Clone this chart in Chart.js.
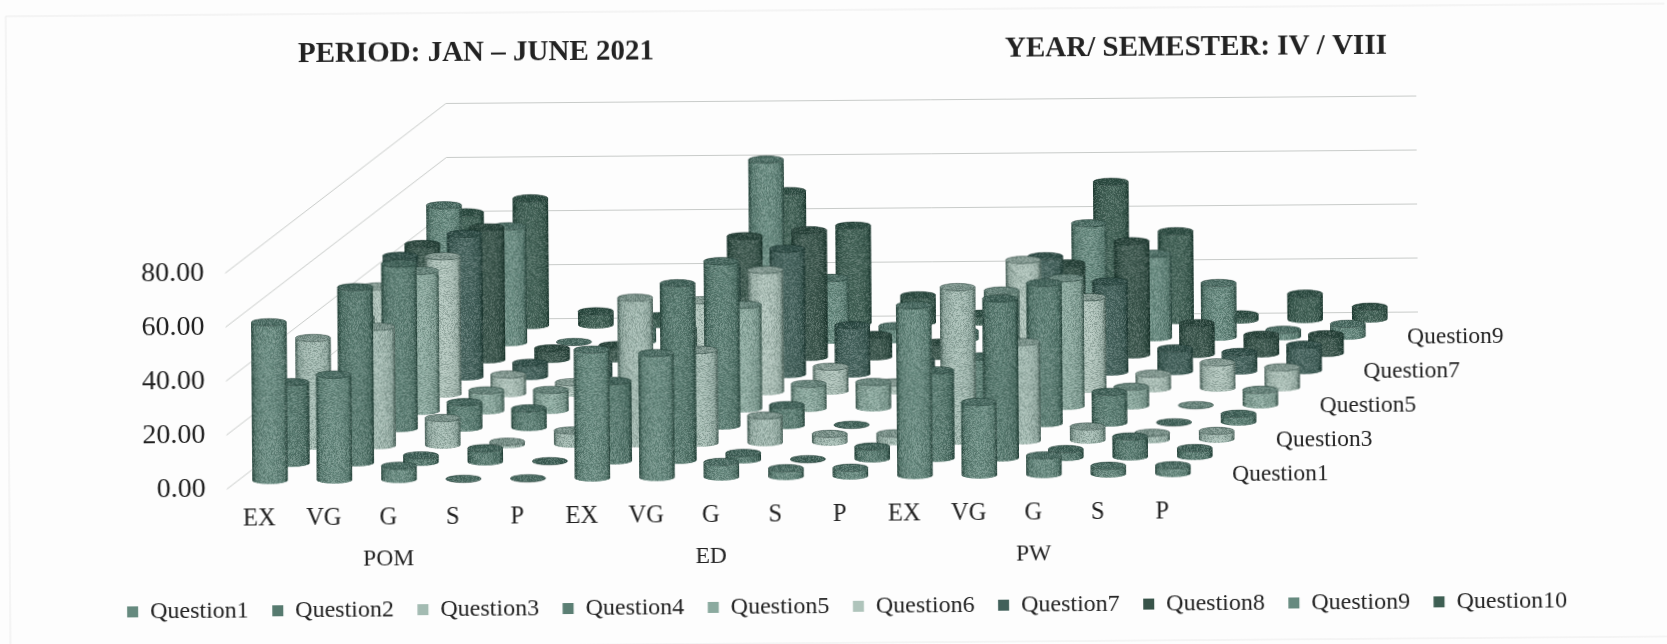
<!DOCTYPE html>
<html>
<head>
<meta charset="utf-8">
<title>Feedback chart</title>
<script src="https://cdn.jsdelivr.net/npm/chart.js@4"></script>
<style>
  html, body { margin: 0; padding: 0; background: #fdfdfd; overflow: hidden; }
  #wrap { width: 1667px; height: 644px; transform: rotate(-0.44deg); }
</style>
</head>
<body>
<div id="wrap"><canvas id="chartCanvas" width="1667" height="644"></canvas></div>
<script>
// --- Data ---
const grades = ["EX","VG","G","S","P","EX","VG","G","S","P","EX","VG","G","S","P"];
const subjects = ["POM","ED","PW"];
const rowLabels = ["Question1","Question3","Question5","Question7","Question9"];
const yTicks = [0, 20, 40, 60, 80];

const question1  = [58.5, 39, 5, 0, 0, 47.5, 46, 5.5, 3, 3, 63, 27, 7, 3, 3];
const question2  = [30, 65, 2.5, 5, 0, 29.5, 65.5, 2.5, 0, 4.5, 32.5, 59, 3, 7.5, 3];
const question3  = [40, 44, 10, 1, 5, 54, 34.5, 10, 3, 3, 57, 36.5, 5, 2.5, 3];
const question4  = [18, 61, 9.5, 7, 4, 22, 61, 7.5, 0, 3, 25, 52, 11.5, 0, 3];
const question5  = [35, 52, 7.5, 7.5, 4, 30, 38.5, 9, 9.5, 5, 43, 47.5, 7, 0, 5.5];
const question6  = [40, 51, 7, 4, 3, 34, 45, 9, 3, 4, 48, 34, 5.5, 9.5, 7.5];
const question7  = [45, 53, 5, 5, 3, 40, 46.5, 18, 5, 5, 43, 33.5, 8.5, 7, 9.5];
const question8  = [43, 49, 4, 5, 2, 45, 47, 8, 5, 5, 34, 42, 11.5, 7, 7];
const question9  = [51, 43, 0, 5, 2, 67, 23, 5, 3, 4, 42.5, 31, 20, 2.5, 4.5];
const question10 = [42, 47, 5, 3, 3, 49, 36, 10, 3, 3, 51.5, 33, 2, 9.5, 4.5];

const seriesValues = [question1, question2, question3, question4, question5,
                      question6, question7, question8, question9, question10];
const seriesColors = ["#668a7f","#567a6f","#a3bbb2","#5b7f74","#8baa9f",
                      "#afc4bb","#41605a","#375349","#668a7f","#3e5f53"];

// --- Look of the fake 3D box ---
const FONT = '"Liberation Serif", serif';
const DEPTH_X = 22;
const DEPTH_Y = 17;
const ROWS = 10;
const RX = 17.7;
const RY = 3.8;

// print grain of the scan, only a texture on the cylinders
function makeGrain(ctx) {
  const tile = document.createElement("canvas");
  tile.width = tile.height = 96;
  const t = tile.getContext("2d");
  for (let py = 0; py < 96; py++) {
    for (let px = 0; px < 96; px++) {
      const n = Math.abs(Math.sin(px * 12.9898 + py * 78.233) * 43758.5453) % 1;
      t.fillStyle = n < 0.5 ? "rgba(0,20,15," + (0.22 * (0.5 - n) * 2) + ")"
                            : "rgba(255,255,255," + (0.2 * (n - 0.5) * 2) + ")";
      t.fillRect(px, py, 1, 1);
    }
  }
  return ctx.createPattern(tile, "repeat");
}
let grain = null;

function drawCylinder(ctx, cx, topY, baseY, color) {
  if (!grain) grain = makeGrain(ctx);
  const g = ctx.createLinearGradient(cx - RX, 0, cx + RX, 0);
  g.addColorStop(0, "rgba(0,25,18,0.6)");
  g.addColorStop(0.1, "rgba(0,25,18,0.14)");
  g.addColorStop(0.5, "rgba(255,255,255,0.04)");
  g.addColorStop(0.9, "rgba(0,25,18,0.14)");
  g.addColorStop(1, "rgba(0,25,18,0.6)");

  ctx.beginPath();
  ctx.ellipse(cx, baseY, RX, RY, 0, 0, Math.PI);
  ctx.lineTo(cx - RX, topY);
  ctx.ellipse(cx, topY, RX, RY, 0, Math.PI, 0, true);
  ctx.closePath();
  ctx.fillStyle = color;
  ctx.fill();
  ctx.fillStyle = g;
  ctx.fill();
  ctx.fillStyle = grain;
  ctx.fill();

  // top face
  ctx.beginPath();
  ctx.ellipse(cx, topY, RX, RY, 0, 0, Math.PI * 2);
  ctx.fillStyle = color;
  ctx.fill();
  ctx.fillStyle = "rgba(0,25,18,0.25)";
  ctx.fill();
  ctx.fillStyle = grain;
  ctx.fill();
  ctx.strokeStyle = "rgba(0,25,18,0.4)";
  ctx.lineWidth = 0.8;
  ctx.stroke();
}

// --- Bar controller that draws each row as cylinders, pushed back by its depth ---
class CylinderController extends Chart.BarController {
  draw() {
    const ctx = this.chart.ctx;
    const depth = this.index + 0.5;
    const color = this.getDataset().backgroundColor;
    this.getMeta().data.forEach(bar => {
      drawCylinder(ctx, bar.x + depth * DEPTH_X, bar.y - depth * DEPTH_Y, bar.base - depth * DEPTH_Y, color);
    });
  }
}
CylinderController.id = "cylinder";
CylinderController.defaults = Chart.BarController.defaults;
Chart.register(CylinderController);

// --- Walls behind the bars ---
const wallsPlugin = {
  id: "walls",
  beforeDatasetsDraw(chart) {
    const { ctx, scales: { x, y } } = chart;
    const dx = DEPTH_X * ROWS + 2;
    const dy = DEPTH_Y * ROWS - 2;
    ctx.save();
    ctx.strokeStyle = "#c8cbc9";
    ctx.lineWidth = 1;
    yTicks.forEach(t => {
      const py = y.getPixelForValue(t);
      ctx.beginPath();
      ctx.moveTo(x.left, py);
      ctx.lineTo(x.left + dx, py - dy);
      ctx.lineTo(x.right + dx + 3, py - dy);
      ctx.stroke();
    });
    ctx.restore();
  }
};

// --- Titles, subject names, row names ---
const textPlugin = {
  id: "extraText",
  afterDraw(chart) {
    const { ctx, scales: { x, y } } = chart;
    ctx.save();
    ctx.fillStyle = "#222";
    ctx.textBaseline = "middle";

    ctx.textAlign = "center";
    ctx.font = "bold 29px " + FONT;
    ctx.fillText("PERIOD: JAN \u2013 JUNE 2021", 478, 51);
    ctx.fillText("YEAR/ SEMESTER: IV / VIII", 1198, 51);

    ctx.font = "23.5px " + FONT;
    subjects.forEach((s, i) => {
      ctx.fillText(s, x.getPixelForValue(2 + i * 5), 556);
    });

    ctx.textAlign = "left";
    const y0 = y.getPixelForValue(0);
    rowLabels.forEach((label, i) => {
      const depth = i * 2 + 0.5;
      ctx.fillText(label, x.right + depth * DEPTH_X + 27, y0 - depth * DEPTH_Y + 2);
    });

    // faint edge of the scanned frame
    ctx.strokeStyle = "#e6e6e6";
    ctx.beginPath();
    ctx.moveTo(1667, 10);
    ctx.lineTo(8, 10);
    ctx.lineTo(8, 643);
    ctx.lineTo(1667, 643);
    ctx.stroke();
    ctx.restore();
  }
};

// --- Chart ---
const chart = new Chart(document.getElementById("chartCanvas").getContext("2d"), {
  type: "cylinder",
  data: {
    labels: grades,
    datasets: seriesValues.map((values, i) => ({
      label: "Question" + (i + 1),
      data: values,
      backgroundColor: seriesColors[i],
      borderWidth: 0,
      grouped: false,
      clip: false
    }))
  },
  options: {
    responsive: false,
    animation: false,
    layout: { padding: { left: 23, top: 268.5, bottom: 15.5 } },
    scales: {
      x: {
        grid: { display: false, drawTicks: false },
        border: { display: false },
        ticks: { color: "#222", font: { family: FONT, size: 24.5 }, maxRotation: 0, autoSkip: false, padding: 15 },
        afterFit: s => { s.height = 86.5; }
      },
      y: {
        min: 0,
        max: 80,
        grid: { display: false, drawTicks: false },
        border: { display: false },
        ticks: {
          stepSize: 20,
          padding: 21,
          color: "#222",
          font: { family: FONT, size: 28 },
          callback: v => v.toFixed(2)
        },
        afterFit: s => { s.width = 202.6; }
      },
      // empty axis on the right keeps room for the depth of the box
      depth: {
        axis: "y",
        position: "right",
        display: true,
        grid: { display: false, drawTicks: false },
        border: { display: false },
        ticks: { display: false },
        afterFit: s => { s.width = 474; }
      }
    },
    plugins: {
      tooltip: { enabled: false },
      legend: {
        position: "bottom",
        labels: { boxWidth: 11, boxHeight: 11, padding: 23.5, color: "#222", font: { family: FONT, size: 24 } }
      }
    }
  },
  plugins: [wallsPlugin, textPlugin]
});
</script>
</body>
</html>
